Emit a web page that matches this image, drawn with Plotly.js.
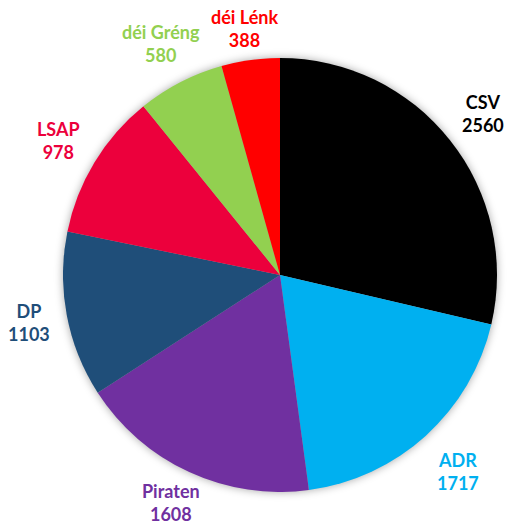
<!DOCTYPE html>
<html>
<head>
<meta charset="utf-8">
<script src="https://cdn.plot.ly/plotly-3.0.1.min.js"></script>
<style>html,body{margin:0;padding:0;background:#fff;}#chart{width:507px;height:527px;}</style>
</head>
<body>
<div id="chart"></div>
<script>
const parties = ["CSV", "ADR", "Piraten", "DP", "LSAP", "déi Gréng", "déi Lénk"];
const votes = [2560, 1717, 1608, 1103, 978, 580, 388];
const colors = ["#000000", "#00B0F0", "#7030A0", "#1F4E79", "#EC003C", "#92D050", "#FF0000"];

const W = 507, H = 527;
const cx = 280, cy = 275, R = 217;
const fontSize = 18;
const fontFamily = "Lato, 'Open Sans', sans-serif";
const gap = 17;

const ctx = document.createElement("canvas").getContext("2d");
ctx.font = "bold " + fontSize + "px Lato";

const total = votes.reduce((a, b) => a + b, 0);
const annotations = [];
let cum = 0;
for (let i = 0; i < votes.length; i++) {
  const mid = (cum + votes[i] / 2) / total * 2 * Math.PI;
  cum += votes[i];
  const sx = Math.sin(mid), sy = -Math.cos(mid);
  const hw = Math.max(ctx.measureText(parties[i]).width, ctx.measureText(String(votes[i])).width) / 2;
  const hh = fontSize * 1.3;
  const t = Math.min(hw / Math.max(Math.abs(sx), 1e-6), hh / Math.max(Math.abs(sy), 1e-6));
  const dist = R + gap + t;
  let px = cx + dist * sx;
  let py = cy + dist * sy;
  px = Math.min(Math.max(px, hw + 3), W - hw - 3);
  py = Math.min(Math.max(py, hh + 5), H - hh - 1);
  annotations.push({
    x: px / W, y: 1 - py / H, xref: "paper", yref: "paper",
    xanchor: "center", yanchor: "middle", showarrow: false,
    text: parties[i] + "<br>" + votes[i],
    font: {family: fontFamily, size: fontSize, weight: "bold", color: colors[i]}
  });
}

const data = [{
  type: "pie",
  labels: parties,
  values: votes,
  sort: false,
  direction: "clockwise",
  rotation: 0,
  textinfo: "none",
  hoverinfo: "label+value",
  marker: {colors: colors, line: {width: 0}},
  domain: {x: [(cx - R) / W, (cx + R) / W], y: [(H - cy - R) / H, (H - cy + R) / H]}
}];

const layout = {
  width: W, height: H,
  margin: {l: 0, r: 0, t: 0, b: 0},
  showlegend: false,
  paper_bgcolor: "#ffffff",
  annotations: annotations
};

Plotly.newPlot("chart", data, layout, {displayModeBar: false, staticPlot: true}).then(() => {
  const pl = document.querySelector(".pielayer");
  if (pl) pl.style.filter = "drop-shadow(0px 0px 4px rgba(0,0,0,0.35))";
});
</script>
</body>
</html>
